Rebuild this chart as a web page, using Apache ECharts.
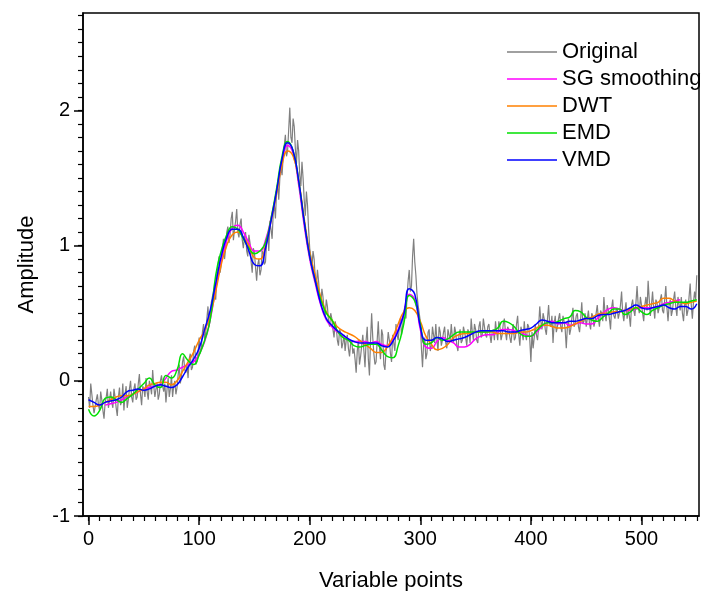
<!DOCTYPE html>
<html>
<head>
<meta charset="utf-8">
<script src="https://cdn.jsdelivr.net/npm/echarts@6/dist/echarts.min.js"></script>
<style>html,body{margin:0;padding:0;background:#fff;}#c{width:702px;height:591px;}</style>
</head>
<body>
<div id="c"></div>
<script>
// ---- Data ----
var seriesNames = ['Original', 'SG smoothing', 'DWT', 'EMD', 'VMD'];
var xTickValues = [0, 100, 200, 300, 400, 500];
var yTickValues = [-1, 0, 1, 2];

// Original noisy signal at even variable points (0,2,...,550)
var originalEven = [
 -0.12,-0.02,-0.18,-0.25,-0.10,-0.22,-0.14,-0.28,-0.12,-0.20,
 -0.08,-0.20,-0.12,-0.26,-0.05,-0.15,-0.22,-0.04,-0.14,0.00,
 -0.16,-0.02,-0.12,0.05,-0.18,-0.06,0.02,-0.14,-0.04,0.08,
 -0.12,-0.02,-0.10,0.04,-0.08,-0.16,0.02,-0.06,-0.12,0.00,
 -0.05,0.12,0.03,0.18,0.06,0.02,0.20,0.10,0.26,0.14,
 0.32,0.24,0.42,0.36,0.55,0.48,0.62,0.70,0.78,0.92,
 0.86,1.05,0.98,1.14,1.08,1.25,1.12,1.27,1.06,1.20,
 0.98,1.10,0.92,1.02,0.80,0.95,0.74,0.90,0.82,0.94,
 0.88,1.10,1.18,1.05,1.30,1.40,1.34,1.58,1.66,1.82,
 1.70,2.02,1.76,1.88,1.60,1.70,1.44,1.50,1.22,1.30,
 0.98,0.84,0.90,0.70,0.74,0.56,0.62,0.48,0.55,0.40,
 0.46,0.32,0.40,0.26,0.36,0.28,0.22,0.34,0.18,0.30,
 0.24,0.06,0.30,0.18,0.34,0.10,0.40,0.04,0.50,0.20,
 0.14,0.44,0.16,0.34,0.08,0.26,0.30,0.14,0.28,0.42,
 0.30,0.46,0.40,0.55,0.62,0.82,0.70,1.05,0.78,0.56,
 0.44,0.10,0.32,0.20,0.38,0.26,0.34,0.42,0.22,0.36,
 0.30,0.40,0.24,0.34,0.42,0.28,0.36,0.22,0.38,0.30,
 0.40,0.26,0.36,0.46,0.30,0.38,0.28,0.44,0.34,0.40,
 0.32,0.42,0.28,0.38,0.44,0.30,0.40,0.34,0.46,0.30,
 0.38,0.28,0.42,0.32,0.48,0.26,0.36,0.44,0.30,0.40,
 0.14,0.24,0.42,0.30,0.55,0.38,0.46,0.34,0.56,0.40,
 0.28,0.48,0.40,0.50,0.36,0.44,0.24,0.46,0.38,0.54,
 0.42,0.50,0.36,0.58,0.44,0.40,0.52,0.38,0.48,0.44,
 0.56,0.40,0.50,0.62,0.44,0.52,0.38,0.60,0.46,0.54,
 0.50,0.66,0.44,0.58,0.52,0.40,0.60,0.48,0.70,0.50,
 0.56,0.44,0.62,0.74,0.48,0.66,0.46,0.58,0.54,0.64,
 0.50,0.70,0.44,0.60,0.52,0.66,0.48,0.56,0.62,0.44,
 0.60,0.52,0.72,0.46,0.66,0.78
];
// Original noisy signal at odd variable points (1,3,...,549)
var originalOdd = [
 -0.20,-0.10,-0.24,-0.14,-0.18,-0.08,-0.22,-0.16,-0.06,-0.14,
 -0.16,-0.06,-0.20,-0.12,-0.18,-0.02,-0.10,-0.20,-0.06,-0.12,
 -0.06,-0.14,-0.02,-0.10,-0.04,-0.12,-0.08,0.00,-0.10,-0.04,
 -0.06,-0.14,0.00,-0.04,-0.02,-0.06,-0.12,0.04,-0.04,-0.10,
 0.04,-0.02,0.14,0.08,0.12,0.16,0.08,0.22,0.12,0.20,
 0.20,0.36,0.30,0.46,0.40,0.58,0.66,0.60,0.86,0.80,
 0.96,0.90,1.10,1.02,1.20,1.04,1.18,1.10,1.16,1.04,
 1.06,0.96,1.08,0.88,0.98,0.84,0.86,0.78,0.96,0.86,
 1.02,0.96,1.12,1.24,1.20,1.46,1.50,1.52,1.74,1.66,
 1.86,1.80,1.94,1.72,1.78,1.52,1.62,1.34,1.40,1.12,
 0.92,0.96,0.76,0.82,0.62,0.68,0.52,0.60,0.44,0.50,
 0.38,0.44,0.30,0.38,0.24,0.34,0.30,0.24,0.28,0.20,
 0.16,0.22,0.12,0.26,0.22,0.30,0.16,0.30,0.32,0.12,
 0.30,0.26,0.38,0.12,0.22,0.36,0.20,0.34,0.22,0.34,
 0.40,0.34,0.50,0.46,0.74,0.66,0.92,0.88,0.64,0.50,
 0.24,0.28,0.16,0.36,0.22,0.40,0.28,0.30,0.40,0.26,
 0.36,0.28,0.38,0.30,0.32,0.40,0.26,0.34,0.28,0.40,
 0.32,0.38,0.28,0.36,0.42,0.30,0.40,0.32,0.46,0.34,
 0.40,0.34,0.36,0.30,0.36,0.44,0.30,0.42,0.36,0.40,
 0.32,0.36,0.30,0.42,0.34,0.40,0.30,0.34,0.42,0.30,
 0.36,0.32,0.34,0.40,0.44,0.50,0.38,0.46,0.42,0.48,
 0.42,0.36,0.46,0.40,0.48,0.38,0.40,0.34,0.46,0.40,
 0.48,0.40,0.46,0.42,0.50,0.46,0.42,0.50,0.40,0.50,
 0.46,0.52,0.44,0.50,0.56,0.46,0.54,0.48,0.52,0.46,
 0.56,0.50,0.52,0.46,0.48,0.56,0.52,0.58,0.56,0.62,
 0.50,0.56,0.52,0.60,0.56,0.54,0.60,0.50,0.60,0.52,
 0.60,0.54,0.56,0.48,0.60,0.54,0.62,0.52,0.50,0.56,
 0.48,0.62,0.56,0.58,0.60
];

// Smoothed curves, sampled every 5 variable points (0..550)
var smoothStep = 5;
var sgSmoothing = [
 null,null,null,-0.18,-0.17,-0.16,-0.14,-0.12,-0.10,-0.08,
 -0.06,-0.05,-0.04,-0.03,0.02,0.07,0.08,0.10,0.12,0.14,
 0.20,0.29,0.45,0.68,0.88,1.04,1.13,1.15,1.10,1.02,
 0.96,0.96,1.04,1.20,1.40,1.62,1.74,1.68,1.45,1.15,
 0.90,0.72,0.56,0.45,0.40,0.36,0.33,0.31,0.29,0.29,
 0.29,0.28,0.29,0.27,0.26,0.30,0.38,0.50,0.64,0.60,
 0.38,0.25,0.24,0.29,0.32,0.30,0.28,0.25,0.25,0.27,
 0.31,0.33,0.34,0.34,0.36,0.38,0.38,0.37,0.36,0.34,
 0.33,0.36,0.40,0.43,0.44,0.42,0.43,0.41,0.42,0.43,
 0.42,0.42,0.46,0.50,0.53,0.54,0.53,0.52,0.52,0.53,
 0.54,0.54,0.54,0.55,0.57,0.58,0.59,0.60,null,null,null
];
var dwt = [
 -0.19,-0.19,-0.18,-0.16,-0.14,-0.12,-0.11,-0.11,-0.10,-0.08,
 -0.06,-0.03,-0.02,-0.01,-0.01,-0.03,0.00,0.07,0.14,0.21,
 0.30,0.37,0.48,0.66,0.86,1.00,1.08,1.10,1.06,1.00,
 0.91,0.90,1.00,1.18,1.38,1.60,1.70,1.66,1.48,1.20,
 0.95,0.78,0.62,0.51,0.45,0.40,0.37,0.35,0.33,0.30,
 0.27,0.24,0.21,0.21,0.25,0.32,0.42,0.51,0.54,0.52,
 0.44,0.33,0.27,0.23,0.24,0.27,0.32,0.34,0.35,0.35,
 0.36,0.36,0.36,0.36,0.35,0.35,0.35,0.35,0.36,0.36,
 0.37,0.39,0.41,0.41,0.40,0.39,0.39,0.40,0.42,0.44,
 0.46,0.47,0.49,0.50,0.50,0.51,0.51,0.52,0.53,0.54,
 0.55,0.56,0.57,0.58,0.61,0.61,0.59,0.58,0.57,0.58,0.59
];
var emd = [
 -0.21,-0.26,-0.22,-0.13,-0.12,-0.14,-0.16,-0.13,-0.10,-0.06,
 -0.02,0.02,-0.03,-0.05,0.04,0.02,0.08,0.20,0.15,0.12,
 0.19,0.30,0.45,0.78,0.96,1.08,1.14,1.12,1.05,0.98,
 0.94,0.96,1.02,1.20,1.42,1.66,1.77,1.70,1.48,1.18,
 0.92,0.74,0.60,0.50,0.45,0.37,0.32,0.30,0.26,0.25,
 0.26,0.27,0.27,0.23,0.18,0.17,0.26,0.42,0.63,0.59,
 0.42,0.27,0.28,0.32,0.30,0.31,0.34,0.36,0.36,0.36,
 0.36,0.36,0.36,0.37,0.39,0.44,0.43,0.40,0.35,0.33,
 0.33,0.37,0.41,0.43,0.43,0.44,0.46,0.47,0.52,0.51,
 0.47,0.45,0.44,0.47,0.50,0.53,0.53,0.49,0.51,0.54,
 0.51,0.49,0.52,0.54,0.56,0.57,0.58,0.58,0.58,0.59,0.60
];
var vmd = [
 -0.14,-0.16,-0.18,-0.16,-0.15,-0.14,-0.12,-0.08,-0.07,-0.06,
 -0.07,-0.06,-0.04,-0.03,-0.04,-0.05,-0.03,0.03,0.10,0.16,
 0.24,0.38,0.52,0.72,0.92,1.06,1.12,1.12,1.06,0.96,
 0.86,0.85,0.98,1.18,1.40,1.64,1.76,1.70,1.48,1.18,
 0.92,0.74,0.57,0.46,0.41,0.37,0.34,0.31,0.29,0.28,
 0.28,0.28,0.28,0.26,0.25,0.29,0.37,0.49,0.68,0.64,
 0.40,0.30,0.30,0.32,0.31,0.29,0.30,0.31,0.32,0.34,
 0.36,0.37,0.37,0.37,0.37,0.37,0.36,0.36,0.37,0.38,
 0.39,0.42,0.45,0.44,0.43,0.43,0.43,0.44,0.44,0.45,
 0.46,0.46,0.48,0.49,0.49,0.50,0.51,0.52,0.54,0.56,
 0.54,0.53,0.54,0.55,0.56,0.54,0.53,0.55,0.55,0.53,0.57
];
var seriesColors = ['#808080', '#ff00ff', '#ff8000', '#00e000', '#0000ff'];

// ---- Build ----
function toPairs(arr, step) {
  var out = [];
  for (var i = 0; i < arr.length; i++) out.push([i * step, arr[i]]);
  return out;
}
function interleave(even, odd) {
  var out = [];
  for (var j = 0; j < even.length; j++) {
    out.push([2 * j, even[j]]);
    if (j < odd.length) out.push([2 * j + 1, odd[j]]);
  }
  return out;
}
var xMinorTicks = [];
for (var i = 0; i <= 55; i++) xMinorTicks.push(i * 10);
var yMinorTicks = [];
for (var k = -10; k <= 27; k++) yMinorTicks.push(Math.round(k) / 10);

var font = 'Liberation Sans, Arial, sans-serif';
var chart = echarts.init(document.getElementById('c'), null, {renderer: 'canvas'});
var xMin = -5, xMax = 552, yMin = -1, yMax = 2.72;

var option = {
  backgroundColor: '#ffffff',
  animation: false,
  textStyle: {fontFamily: font, color: '#000'},
  grid: {left: 83, right: 3, top: 13, bottom: 75, show: true, borderColor: '#000', borderWidth: 1.5,
         backgroundColor: 'transparent', containLabel: false, outerBoundsMode: 'none'},
  legend: {
    orient: 'vertical', left: 502, top: 36,
    icon: 'rect',
    itemWidth: 50, itemHeight: 1.5, itemGap: 5,
    textStyle: {fontFamily: font, fontSize: 22, color: '#000'},
    data: seriesNames
  },
  xAxis: [{
    type: 'value', min: xMin, max: xMax, position: 'bottom',
    name: 'Variable points', nameLocation: 'middle', nameGap: 54,
    nameTextStyle: {fontFamily: font, fontSize: 22, color: '#000'},
    axisLine: {show: true, onZero: false, lineStyle: {color: '#000', width: 1.5}},
    axisTick: {show: true, inside: false, length: 9, customValues: xTickValues, lineStyle: {color: '#000', width: 1.5}},
    axisLabel: {show: true, customValues: xTickValues, fontFamily: font, fontSize: 20, color: '#000', margin: 13},
    splitLine: {show: false}
  }, {
    type: 'value', min: xMin, max: xMax, position: 'bottom',
    axisLine: {show: false, onZero: false},
    axisTick: {show: true, inside: false, length: 5, customValues: xMinorTicks, lineStyle: {color: '#000', width: 1.2}},
    axisLabel: {show: false},
    splitLine: {show: false}
  }],
  yAxis: [{
    type: 'value', min: yMin, max: yMax, position: 'left',
    name: 'Amplitude', nameLocation: 'middle', nameGap: 45,
    nameTextStyle: {fontFamily: font, fontSize: 22, color: '#000'},
    axisLine: {show: true, onZero: false, lineStyle: {color: '#000', width: 1.5}},
    axisTick: {show: true, inside: false, length: 9, customValues: yTickValues, lineStyle: {color: '#000', width: 1.5}},
    axisLabel: {show: true, customValues: yTickValues, fontFamily: font, fontSize: 20, color: '#000', margin: 13},
    splitLine: {show: false}
  }, {
    type: 'value', min: yMin, max: yMax, position: 'left',
    axisLine: {show: false, onZero: false},
    axisTick: {show: true, inside: false, length: 5, customValues: yMinorTicks, lineStyle: {color: '#000', width: 1.2}},
    axisLabel: {show: false},
    splitLine: {show: false}
  }],
  series: [
    {name: seriesNames[0], type: 'line', data: interleave(originalEven, originalOdd), showSymbol: false, symbol: 'none',
     lineStyle: {color: seriesColors[0], width: 1.2}, itemStyle: {color: seriesColors[0]}, z: 2},
    {name: seriesNames[1], type: 'line', data: toPairs(sgSmoothing, smoothStep), smooth: 0.5, symbol: 'none',
     lineStyle: {color: seriesColors[1], width: 1.5}, itemStyle: {color: seriesColors[1]}, z: 3},
    {name: seriesNames[2], type: 'line', data: toPairs(dwt, smoothStep), smooth: 0.5, symbol: 'none',
     lineStyle: {color: seriesColors[2], width: 1.5}, itemStyle: {color: seriesColors[2]}, z: 4},
    {name: seriesNames[3], type: 'line', data: toPairs(emd, smoothStep), smooth: 0.5, symbol: 'none',
     lineStyle: {color: seriesColors[3], width: 1.5}, itemStyle: {color: seriesColors[3]}, z: 5},
    {name: seriesNames[4], type: 'line', data: toPairs(vmd, smoothStep), smooth: 0.5, symbol: 'none',
     lineStyle: {color: seriesColors[4], width: 1.5}, itemStyle: {color: seriesColors[4]}, z: 6}
  ]
};
chart.setOption(option);
</script>
</body>
</html>
